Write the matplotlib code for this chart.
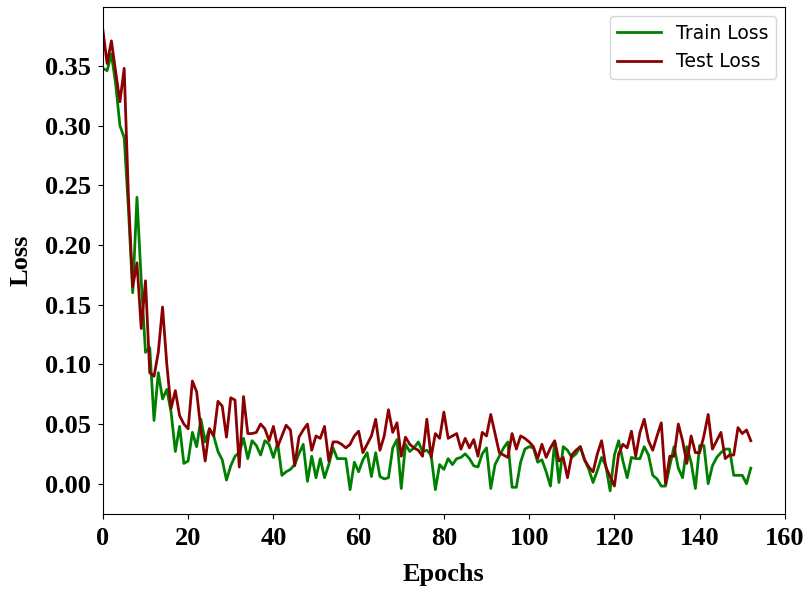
import matplotlib.pyplot as plt
import numpy as np

# Loss values per epoch
train_loss = [
    0.348, 0.346, 0.360, 0.335, 0.300, 0.290, 0.230, 0.160, 0.240, 0.170,
    0.110, 0.114, 0.053, 0.093, 0.071, 0.079, 0.060, 0.027, 0.048, 0.017,
    0.019, 0.043, 0.031, 0.054, 0.035, 0.046, 0.040, 0.027, 0.020, 0.003,
    0.015, 0.023, 0.026, 0.038, 0.021, 0.036, 0.032, 0.024, 0.036, 0.033,
    0.022, 0.034, 0.007, 0.010, 0.012, 0.016, 0.025, 0.033, 0.002, 0.023,
    0.005, 0.021, 0.005, 0.016, 0.030, 0.021, 0.021, 0.021, -0.005, 0.018,
    0.010, 0.020, 0.026, 0.006, 0.026, 0.006, 0.004, 0.005, 0.030, 0.037,
    -0.004, 0.033, 0.027, 0.030, 0.035, 0.027, 0.028, 0.024, -0.005, 0.016,
    0.012, 0.021, 0.016, 0.021, 0.022, 0.025, 0.021, 0.015, 0.014, 0.025,
    0.030, -0.004, 0.016, 0.023, 0.030, 0.035, -0.003, -0.003, 0.018, 0.029,
    0.031, 0.030, 0.018, 0.020, 0.010, -0.002, 0.035, 0.001, 0.031, 0.028,
    0.022, 0.025, 0.031, 0.020, 0.012, 0.001, 0.011, 0.022, 0.015, -0.006,
    0.024, 0.036, 0.019, 0.005, 0.022, 0.021, 0.021, 0.031, 0.024, 0.007,
    0.004, -0.002, -0.002, 0.015, 0.031, 0.013, 0.005, 0.031, 0.018, -0.004,
    0.032, 0.032, 0.000, 0.015, 0.022, 0.026, 0.029, 0.029, 0.007, 0.007,
    0.007, 0.000, 0.013,
]
test_loss = [
    0.380, 0.352, 0.371, 0.345, 0.320, 0.348, 0.240, 0.165, 0.185, 0.130,
    0.170, 0.093, 0.090, 0.110, 0.148, 0.100, 0.063, 0.078, 0.057, 0.050,
    0.046, 0.086, 0.077, 0.045, 0.019, 0.046, 0.040, 0.069, 0.065, 0.039,
    0.072, 0.070, 0.014, 0.073, 0.042, 0.042, 0.043, 0.050, 0.046, 0.036,
    0.048, 0.031, 0.040, 0.049, 0.045, 0.015, 0.039, 0.045, 0.050, 0.028,
    0.040, 0.038, 0.048, 0.019, 0.035, 0.035, 0.033, 0.030, 0.033, 0.040,
    0.044, 0.026, 0.033, 0.040, 0.054, 0.028, 0.040, 0.062, 0.043, 0.051,
    0.023, 0.039, 0.033, 0.030, 0.028, 0.023, 0.054, 0.022, 0.042, 0.038,
    0.060, 0.038, 0.040, 0.042, 0.029, 0.038, 0.030, 0.037, 0.023, 0.043,
    0.040, 0.058, 0.042, 0.026, 0.024, 0.022, 0.042, 0.029, 0.040, 0.038,
    0.035, 0.031, 0.021, 0.033, 0.022, 0.030, 0.036, 0.019, 0.022, 0.005,
    0.024, 0.028, 0.031, 0.020, 0.014, 0.010, 0.025, 0.036, 0.014, 0.006,
    -0.002, 0.025, 0.033, 0.030, 0.044, 0.023, 0.043, 0.054, 0.036, 0.028,
    0.040, 0.051, 0.000, 0.023, 0.023, 0.050, 0.036, 0.017, 0.040, 0.026,
    0.026, 0.040, 0.058, 0.029, 0.036, 0.043, 0.021, 0.024, 0.024, 0.047,
    0.042, 0.045, 0.036,
]
epochs = np.arange(len(train_loss))

# Create figure
fig = plt.figure(figsize=(8.1, 5.9), dpi=100)
ax = fig.add_axes([0.127, 0.129, 0.842, 0.859])

ax.plot(epochs, train_loss, color="green", linewidth=2, label="Train Loss")
ax.plot(epochs, test_loss, color="darkred", linewidth=2, label="Test Loss")

# Format graph
ax.set_xlim(0, 160)
ax.set_xticks(np.arange(0, 161, 20))
ax.set_yticks(np.arange(0, 0.36, 0.05))
ax.yaxis.set_major_formatter(plt.FormatStrFormatter("%.2f"))
ax.tick_params(axis="x", pad=6)
ax.tick_params(axis="y", pad=5)

tick_font = {"family": "Liberation Serif", "weight": "bold", "size": 19}
for lbl in ax.get_xticklabels() + ax.get_yticklabels():
    lbl.set_fontfamily("Liberation Serif")
    lbl.set_fontweight("bold")
    lbl.set_fontsize(19)
ax.set_xlabel("Epochs", fontdict=tick_font, labelpad=9)
ax.set_ylabel("Loss", fontdict=tick_font, labelpad=9)

ax.legend(loc="upper right", fontsize=13.5, handlelength=2.3)

plt.savefig("out.png", dpi=100)
